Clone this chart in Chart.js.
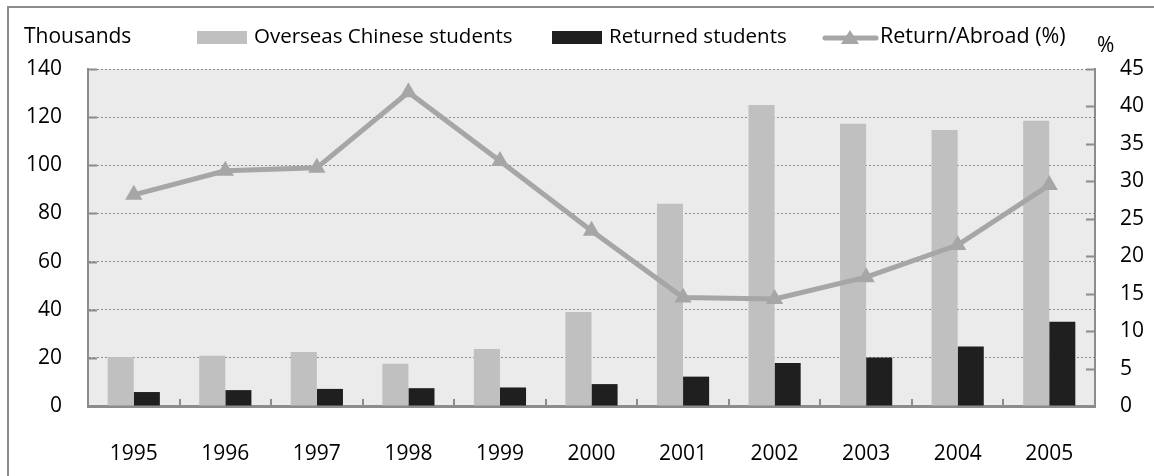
<!DOCTYPE html>
<html>
<head>
<meta charset="utf-8">
<script src="https://cdn.jsdelivr.net/npm/chart.js@4/dist/chart.umd.min.js"></script>
<style>
  html, body { margin: 0; padding: 0; background: #fff; }
  #wrap { width: 1154px; height: 476px; }
</style>
</head>
<body>
<div id="wrap"><canvas id="chart"></canvas></div>
<script>
// data
var years = ['1995', '1996', '1997', '1998', '1999', '2000', '2001', '2002', '2003', '2004', '2005'];
var overseas = [20.4, 20.9, 22.4, 17.6, 23.7, 39.0, 84.0, 125.0, 117.3, 114.7, 118.5];
var returned = [5.8, 6.6, 7.1, 7.4, 7.7, 9.1, 12.2, 17.9, 20.2, 24.7, 35.0];
var returnRatio = [28.2, 31.4, 31.8, 41.9, 32.7, 23.4, 14.5, 14.3, 17.2, 21.5, 29.5];

var FONT = '"Open Sans", "Noto Sans", sans-serif';
var FSIZE = 21;
var axisGray = '#8c8c8c';

// fond gris de la zone de tracé + cadre extérieur
var backdrop = {
  id: 'backdrop',
  beforeDraw: function (chart) {
    var ctx = chart.ctx, a = chart.chartArea;
    ctx.save();
    ctx.strokeStyle = '#8c8c8c';
    ctx.lineWidth = 2;
    ctx.strokeRect(8, 7, chart.width + 20, chart.height + 20);
    ctx.fillStyle = '#ebebeb';
    ctx.fillRect(a.left, a.top, a.right - a.left, a.bottom - a.top);
    ctx.restore();
  }
};

// petites graduations vers l'intérieur
var innerTicks = {
  id: 'innerTicks',
  afterDatasetsDraw: function (chart) {
    var ctx = chart.ctx, a = chart.chartArea;
    var x = chart.scales.x, y = chart.scales.y, y1 = chart.scales.y1;
    ctx.save();
    ctx.strokeStyle = axisGray;
    ctx.lineWidth = 2;
    ctx.beginPath();
    for (var i = 1; i < years.length; i++) {
      var px = (x.getPixelForValue(i - 1) + x.getPixelForValue(i)) / 2;
      ctx.moveTo(Math.round(px), a.bottom);
      ctx.lineTo(Math.round(px), a.bottom - 7);
    }
    y.ticks.forEach(function (t) {
      var py = Math.round(y.getPixelForValue(t.value)) + 0.5;
      ctx.moveTo(a.left, py);
      ctx.lineTo(a.left + 9, py);
    });
    y1.ticks.forEach(function (t) {
      var py = Math.round(y1.getPixelForValue(t.value)) + 0.5;
      ctx.moveTo(a.right, py);
      ctx.lineTo(a.right - 9, py);
    });
    ctx.stroke();
    ctx.restore();
  }
};

// légende et titres d'axes dessinés à la main
var legendDraw = {
  id: 'legendDraw',
  afterDraw: function (chart) {
    var ctx = chart.ctx;
    var ds = chart.data.datasets;
    ctx.save();
    ctx.font = FSIZE + 'px ' + FONT;
    ctx.fillStyle = '#000';
    ctx.textBaseline = 'middle';
    ctx.textAlign = 'left';
    ctx.fillText('Thousands', 24, 37);
    ctx.fillText('%', 1097, 46);

    var sizes = [20.5, 20.5, 21.5];
    var starts = [197, 552, 823];
    ds.forEach(function (d, i) {
      var x0 = starts[i];
      if (d.type === 'line') {
        ctx.strokeStyle = d.borderColor;
        ctx.lineWidth = 5;
        ctx.lineCap = 'round';
        ctx.beginPath();
        ctx.moveTo(x0 + 2, 38);
        ctx.lineTo(x0 + 53, 38);
        ctx.stroke();
        ctx.fillStyle = d.borderColor;
        ctx.beginPath();
        ctx.moveTo(x0 + 27, 30);
        ctx.lineTo(x0 + 36, 44);
        ctx.lineTo(x0 + 18, 44);
        ctx.closePath();
        ctx.fill();
      } else {
        ctx.fillStyle = d.backgroundColor;
        ctx.fillRect(x0, 31, 50, 13);
      }
      ctx.font = sizes[i] + 'px ' + FONT;
      ctx.fillStyle = '#000';
      ctx.fillText(d.label, x0 + 57, 37);
    });
    ctx.restore();
  }
};

function createChart() {
  var ctx = document.getElementById('chart').getContext('2d');
  return new Chart(ctx, {
    data: {
      labels: years,
      datasets: [
        {
          type: 'bar',
          label: 'Overseas Chinese students',
          yAxisID: 'y',
          backgroundColor: '#c0c0c0',
          data: overseas,
          categoryPercentage: 0.57,
          barPercentage: 1.0,
          order: 1
        },
        {
          type: 'bar',
          label: 'Returned students',
          yAxisID: 'y',
          backgroundColor: '#1f1f1f',
          data: returned,
          categoryPercentage: 0.57,
          barPercentage: 1.0,
          order: 2
        },
        {
          type: 'line',
          label: 'Return/Abroad (%)',
          yAxisID: 'y1',
          borderColor: '#a6a6a6',
          backgroundColor: '#a6a6a6',
          borderWidth: 5,
          pointStyle: 'triangle',
          pointRadius: 10,
          pointBorderWidth: 0,
          pointBackgroundColor: '#a6a6a6',
          data: returnRatio,
          tension: 0,
          order: 0
        }
      ]
    },
    options: {
      responsive: true,
      maintainAspectRatio: false,
      animation: false,
      layout: { padding: { top: 69, left: 0, right: 0, bottom: 0 } },
      plugins: {
        legend: { display: false },
        tooltip: { enabled: false }
      },
      scales: {
        x: {
          offset: true,
          grid: { display: false },
          border: { display: true, color: axisGray, width: 3 },
          ticks: { padding: 27, color: '#000', font: { family: FONT, size: FSIZE } },
          afterFit: function (s) { s.height = 70; }
        },
        y: {
          position: 'left',
          min: 0,
          max: 140,
          ticks: { stepSize: 20, padding: 26, color: '#000', font: { family: FONT, size: FSIZE } },
          grid: { color: axisGray, lineWidth: 1, drawTicks: false },
          border: { display: true, color: axisGray, width: 2, dash: [2, 2] },
          afterFit: function (s) { s.width = 88; }
        },
        y1: {
          position: 'right',
          min: 0,
          max: 45,
          ticks: { stepSize: 5, padding: 25, color: '#000', font: { family: FONT, size: FSIZE } },
          grid: { drawOnChartArea: false, drawTicks: false },
          border: { display: true, color: axisGray, width: 2 },
          afterFit: function (s) { s.width = 59; }
        }
      }
    },
    plugins: [backdrop, innerTicks, legendDraw]
  });
}

var chart = createChart();
</script>
</body>
</html>
